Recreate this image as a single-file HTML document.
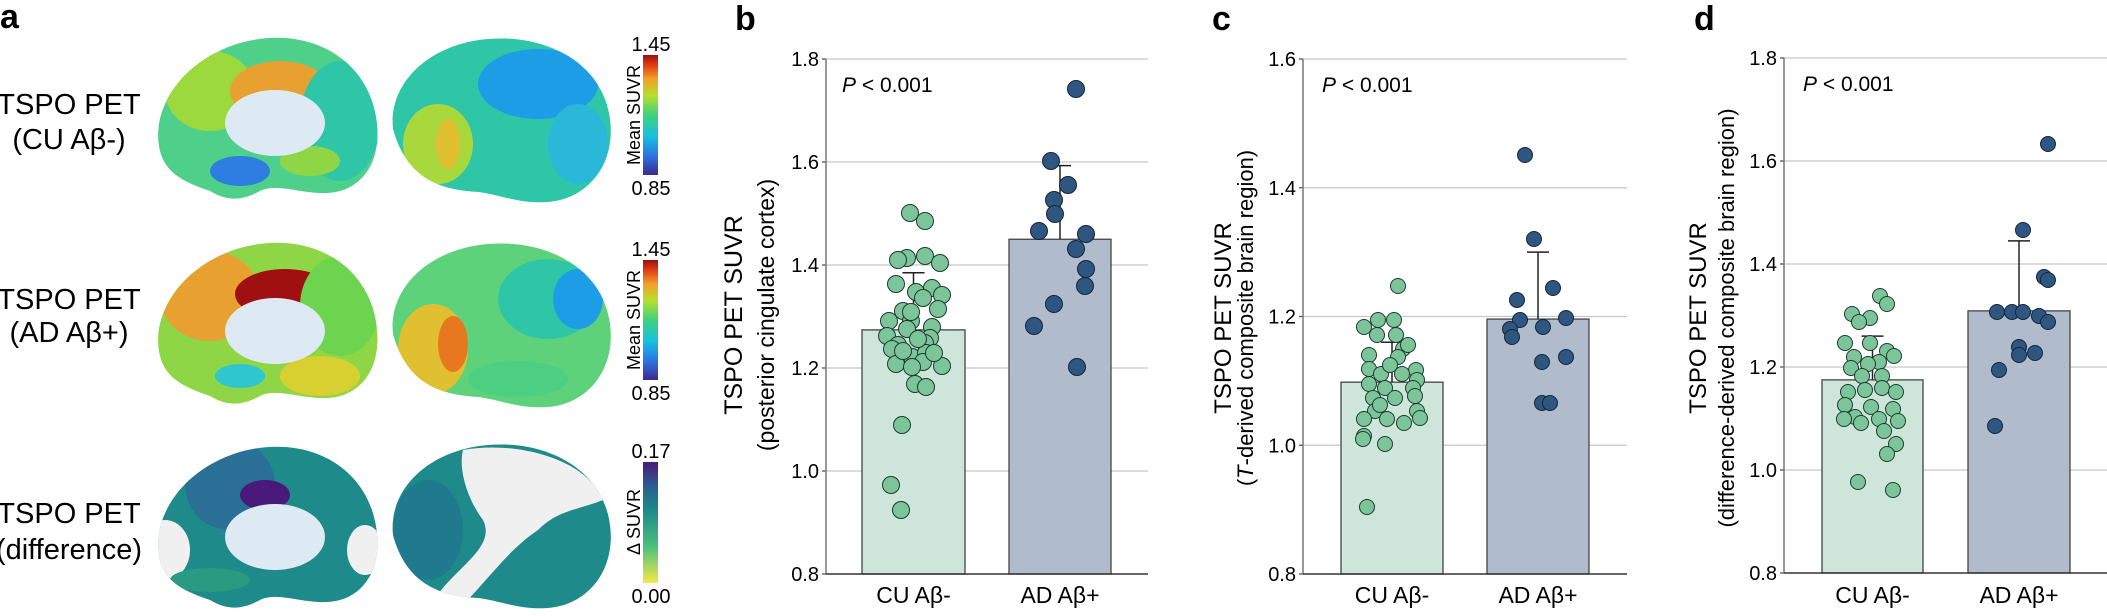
<!DOCTYPE html>
<html><head><meta charset="utf-8"><style>
html,body{margin:0;padding:0;background:#fff;}
svg text{font-family:"Liberation Sans",Arial,sans-serif;}
</style></head><body>
<svg id="s" width="2107" height="611" viewBox="0 0 2107 611" xmlns="http://www.w3.org/2000/svg">
<defs>
<linearGradient id="jet" x1="0" y1="1" x2="0" y2="0">
<stop offset="0" stop-color="#3b2a8c"/><stop offset="0.15" stop-color="#2d6fe0"/><stop offset="0.32" stop-color="#18c0e0"/><stop offset="0.5" stop-color="#3ed27a"/><stop offset="0.66" stop-color="#b6e02e"/><stop offset="0.8" stop-color="#f2a02a"/><stop offset="0.92" stop-color="#e03a14"/><stop offset="1" stop-color="#9a0d0d"/>
</linearGradient>
<linearGradient id="vir" x1="0" y1="1" x2="0" y2="0">
<stop offset="0" stop-color="#f4e84a"/><stop offset="0.3" stop-color="#4cc07a"/><stop offset="0.6" stop-color="#1e8a8a"/><stop offset="0.8" stop-color="#2a5f90"/><stop offset="1" stop-color="#4a1a7a"/>
</linearGradient>
<path id="med" d="M10,120 C0,80 30,30 90,12 C150,-5 205,20 222,70 C235,110 225,150 190,160 C160,168 130,150 110,160 C95,168 80,172 60,160 C30,150 15,140 10,120 Z"/>
<path id="lat" d="M5,95 C0,50 40,10 100,5 C160,0 215,30 222,85 C228,130 200,165 160,168 C130,170 110,160 90,158 C60,156 20,150 5,95 Z"/>
<clipPath id="cm"><use href="#med"/></clipPath>
<clipPath id="cl"><use href="#lat"/></clipPath>
</defs>

<g font-size="29">
<text x="0" y="28" font-weight="bold" font-size="34">a</text>
<text x="69" y="114" text-anchor="middle">TSPO PET</text>
<text x="69" y="149" text-anchor="middle">(CU Aβ-)</text>
<text x="69" y="309" text-anchor="middle">TSPO PET</text>
<text x="69" y="342" text-anchor="middle">(AD Aβ+)</text>
<text x="69" y="523" text-anchor="middle">TSPO PET</text>
<text x="69" y="559" text-anchor="middle">(difference)</text>
</g>

<!-- row 1 -->
<g transform="translate(150,31)">
<use href="#med" fill="#4ecf8a"/>
<g clip-path="url(#cm)">
<ellipse cx="60" cy="60" rx="45" ry="40" fill="#9bd93c"/>
<ellipse cx="130" cy="60" rx="50" ry="30" fill="#e8a030"/>
<ellipse cx="190" cy="90" rx="40" ry="60" fill="#2fc6a8"/>
<ellipse cx="90" cy="140" rx="30" ry="15" fill="#2e7de0"/>
<ellipse cx="160" cy="130" rx="30" ry="15" fill="#8fd646"/>
</g>
<ellipse cx="125" cy="92" rx="50" ry="33" fill="#dde9f3"/>
</g>
<g transform="translate(388,34)">
<use href="#lat" fill="#2fc6a8"/>
<g clip-path="url(#cl)">
<ellipse cx="150" cy="50" rx="60" ry="35" fill="#1d9de6"/>
<ellipse cx="50" cy="110" rx="35" ry="40" fill="#a9d83c"/>
<ellipse cx="60" cy="110" rx="12" ry="25" fill="#e0c030"/>
<ellipse cx="190" cy="110" rx="30" ry="40" fill="#2ab8d8"/>
</g>
</g>
<rect x="643" y="55" width="15" height="120" fill="url(#jet)"/>
<text x="651" y="51" font-size="20" text-anchor="middle">1.45</text>
<text x="651" y="195" font-size="20" text-anchor="middle">0.85</text>
<text transform="translate(640,115) rotate(-90)" font-size="18" text-anchor="middle">Mean SUVR</text>

<!-- row 2 -->
<g transform="translate(150,236)">
<use href="#med" fill="#8fd646"/>
<g clip-path="url(#cm)">
<ellipse cx="60" cy="60" rx="50" ry="45" fill="#e8a030"/>
<ellipse cx="135" cy="58" rx="50" ry="25" fill="#a01010"/>
<ellipse cx="190" cy="70" rx="40" ry="50" fill="#6cd44e"/>
<ellipse cx="170" cy="140" rx="40" ry="20" fill="#d8d030"/>
<ellipse cx="90" cy="140" rx="25" ry="12" fill="#2fc6d0"/>
</g>
<ellipse cx="125" cy="95" rx="50" ry="33" fill="#dde9f3"/>
</g>
<g transform="translate(388,239)">
<use href="#lat" fill="#5ed27a"/>
<g clip-path="url(#cl)">
<ellipse cx="160" cy="60" rx="50" ry="40" fill="#2fc6a8"/>
<ellipse cx="190" cy="60" rx="25" ry="30" fill="#1d9de6"/>
<ellipse cx="45" cy="110" rx="35" ry="45" fill="#e0c030"/>
<ellipse cx="65" cy="105" rx="15" ry="28" fill="#e87820"/>
<ellipse cx="130" cy="140" rx="50" ry="18" fill="#4ccf80"/>
</g>
</g>
<rect x="643" y="260" width="15" height="120" fill="url(#jet)"/>
<text x="651" y="256" font-size="20" text-anchor="middle">1.45</text>
<text x="651" y="400" font-size="20" text-anchor="middle">0.85</text>
<text transform="translate(640,320) rotate(-90)" font-size="18" text-anchor="middle">Mean SUVR</text>

<!-- row 3 -->
<g transform="translate(150,440)">
<use href="#med" fill="#1e8a8a"/>
<g clip-path="url(#cm)">
<ellipse cx="80" cy="45" rx="45" ry="45" fill="#2a6f96"/>
<ellipse cx="115" cy="55" rx="25" ry="15" fill="#4a1a7a"/>
<ellipse cx="15" cy="110" rx="25" ry="30" fill="#f0f0f0"/>
<ellipse cx="215" cy="110" rx="18" ry="25" fill="#f0f0f0"/>
<ellipse cx="60" cy="140" rx="40" ry="12" fill="#2a9a80"/>
</g>
<ellipse cx="125" cy="97" rx="50" ry="33" fill="#dde9f3"/>
</g>
<g transform="translate(388,440)">
<use href="#lat" fill="#1e8a8a"/>
<g clip-path="url(#cl)">
<path d="M75,10 C130,0 200,20 215,60 C190,70 170,70 150,90 C120,110 100,140 70,170 L40,170 C60,130 110,110 95,80 C80,60 70,30 75,10 Z" fill="#f0f0f0"/>
<ellipse cx="40" cy="90" rx="35" ry="50" fill="#1f7a8e"/>
</g>
</g>
<rect x="643" y="462" width="15" height="121" fill="url(#vir)"/>
<text x="651" y="458" font-size="20" text-anchor="middle">0.17</text>
<text x="651" y="603" font-size="20" text-anchor="middle">0.00</text>
<text transform="translate(640,522) rotate(-90)" font-size="18" text-anchor="middle">Δ SUVR</text>

<g id="charts"></g>
</svg>
<script>
var NS="http://www.w3.org/2000/svg",G=document.getElementById("charts");
function el(t,a,txt){var e=document.createElementNS(NS,t);for(var k in a)e.setAttribute(k,a[k]);if(txt!=null)e.textContent=txt;G.appendChild(e);return e;}
function panel(p){
 var y=function(v){return p.y0-(v-p.vmin)/(p.vmax-p.vmin)*(p.y0-p.y1);};
 el("text",{x:p.lx,y:30,"font-size":34,"font-weight":"bold"},p.letter);
 for(var i=0;i<p.ticks.length;i++){var v=p.ticks[i],yy=y(v);
  if(i>0)el("line",{x1:p.ax,x2:p.gx,y1:yy,y2:yy,stroke:"#c8c8c8","stroke-width":1.3});
  el("line",{x1:p.ax-4,x2:p.ax,y1:yy,y2:yy,stroke:"#555","stroke-width":1.3});
  el("text",{x:p.ax-7,y:yy+7,"font-size":20,"text-anchor":"end"},v.toFixed(1));}
 el("line",{x1:p.ax,x2:p.ax,y1:p.y1,y2:p.y0,stroke:"#777","stroke-width":1.5});
 el("rect",{x:p.b1[0],y:y(p.m1),width:p.b1[1]-p.b1[0],height:p.y0-y(p.m1),fill:"#cde6d9",stroke:"#444","stroke-width":1.3});
 el("rect",{x:p.b2[0],y:y(p.m2),width:p.b2[1]-p.b2[0],height:p.y0-y(p.m2),fill:"#b0bccb",stroke:"#444","stroke-width":1.3});
 el("line",{x1:p.ax,x2:p.gx,y1:p.y0,y2:p.y0,stroke:"#333","stroke-width":1.5});
 [[p.b1,p.m1,p.e1],[p.b2,p.m2,p.e2]].forEach(function(b){var cx=(b[0][0]+b[0][1])/2;
  el("line",{x1:cx,x2:cx,y1:y(b[1]),y2:y(b[2]),stroke:"#222","stroke-width":1.5});
  el("line",{x1:cx-11,x2:cx+11,y1:y(b[2]),y2:y(b[2]),stroke:"#222","stroke-width":1.5});});
 p.cu.forEach(function(d){el("circle",{cx:d[0],cy:d[1],r:p.r,fill:"#7cc59b",stroke:"#1f3a2c","stroke-width":1});});
 p.ad.forEach(function(d){el("circle",{cx:d[0],cy:d[1],r:p.r,fill:"#2f5680",stroke:"#14263a","stroke-width":1});});
 var t=el("text",{x:p.px,y:p.y1+33,"font-size":21});
 var s=document.createElementNS(NS,"tspan");s.setAttribute("font-style","italic");s.textContent="P";t.appendChild(s);
 t.appendChild(document.createTextNode(" < 0.001"));
 el("text",{x:(p.b1[0]+p.b1[1])/2,y:603,"font-size":23,"text-anchor":"middle"},"CU Aβ-");
 el("text",{x:(p.b2[0]+p.b2[1])/2,y:603,"font-size":23,"text-anchor":"middle"},"AD Aβ+");
 el("text",{transform:"translate("+(p.yl[0]+9)+","+p.yc+") rotate(-90)","font-size":p.yf,"text-anchor":"middle"},"TSPO PET SUVR");
 var t2=el("text",{transform:"translate("+(p.yl[1]+9)+","+p.yc+") rotate(-90)","font-size":p.yf2,"text-anchor":"middle"});
 if(p.ital){var s2=document.createElementNS(NS,"tspan");s2.setAttribute("font-style","italic");s2.textContent="T";t2.appendChild(document.createTextNode("("));t2.appendChild(s2);t2.appendChild(document.createTextNode(p.sub));}
 else t2.textContent=p.sub;
}
panel({letter:"b",lx:735,ax:826,gx:1148,y0:574,y1:59,vmin:0.8,vmax:1.8,ticks:[0.8,1.0,1.2,1.4,1.6,1.8],
 b1:[862,965],b2:[1009,1111],m1:1.274,e1:1.385,m2:1.45,e2:1.593,r:8.5,px:842,
 yl:[733,765],yc:315,yf:25,yf2:23,sub:"(posterior cingulate cortex)",
 cu:[[910,213],[925,221],[907,258],[898,260],[925,256],[940,263],[896,284],[932,288],[942,295],[916,292],[923,298],[903,311],[938,309],[911,321],[889,321],[932,327],[907,329],[887,336],[930,338],[898,345],[892,349],[925,343],[912,357],[926,353],[896,364],[923,362],[942,366],[912,367],[915,384],[926,387],[902,425],[891,485],[901,510],[918,339],[903,351],[934,353],[911,312]],
 ad:[[1076,89],[1051,161],[1068,185],[1054,200],[1055,214],[1039,231],[1086,234],[1076,249],[1086,269],[1085,286],[1054,304],[1034,326],[1077,367]]});
panel({letter:"c",lx:1212,ax:1303,gx:1627,y0:574,y1:59,vmin:0.8,vmax:1.6,ticks:[0.8,1.0,1.2,1.4,1.6],
 b1:[1341,1443],b2:[1487,1589],m1:1.098,e1:1.16,m2:1.196,e2:1.30,r:7.5,px:1322,
 yl:[1222,1244],yc:318,yf:24,yf2:22,ital:true,sub:"-derived composite brain region)",
 cu:[[1398,286],[1364,327],[1378,320],[1394,320],[1377,335],[1396,335],[1369,355],[1403,349],[1398,357],[1369,369],[1416,370],[1381,374],[1402,374],[1417,380],[1369,384],[1385,388],[1413,388],[1373,398],[1395,398],[1415,396],[1375,411],[1417,411],[1364,419],[1387,419],[1420,418],[1404,423],[1364,436],[1363,439],[1385,444],[1367,507],[1390,365],[1408,345],[1380,405]],
 ad:[[1525,155],[1534,239],[1553,288],[1517,300],[1520,320],[1566,318],[1510,329],[1512,337],[1543,327],[1566,357],[1542,362],[1542,403],[1550,403]]});
panel({letter:"d",lx:1694,ax:1784,gx:2107,y0:573,y1:58,vmin:0.8,vmax:1.8,ticks:[0.8,1.0,1.2,1.4,1.6,1.8],
 b1:[1822,1923],b2:[1968,2070],m1:1.175,e1:1.26,m2:1.309,e2:1.445,r:7.5,px:1803,
 yl:[1697,1725],yc:318,yf:24,yf2:22,sub:"(difference-derived composite brain region)",
 cu:[[1880,296],[1887,304],[1852,314],[1870,318],[1859,322],[1845,343],[1870,343],[1887,351],[1894,356],[1854,357],[1879,362],[1868,364],[1851,368],[1862,376],[1882,376],[1848,392],[1865,390],[1882,388],[1896,392],[1845,405],[1871,407],[1893,409],[1855,417],[1844,419],[1879,419],[1898,421],[1861,423],[1884,431],[1896,444],[1887,454],[1858,482],[1893,490]],
 ad:[[2048,144],[2023,230],[2044,277],[2048,280],[1997,312],[2012,312],[2023,312],[2039,316],[2048,322],[2019,347],[2035,353],[2019,355],[1999,370],[1995,426]]});
</script>
</body></html>
